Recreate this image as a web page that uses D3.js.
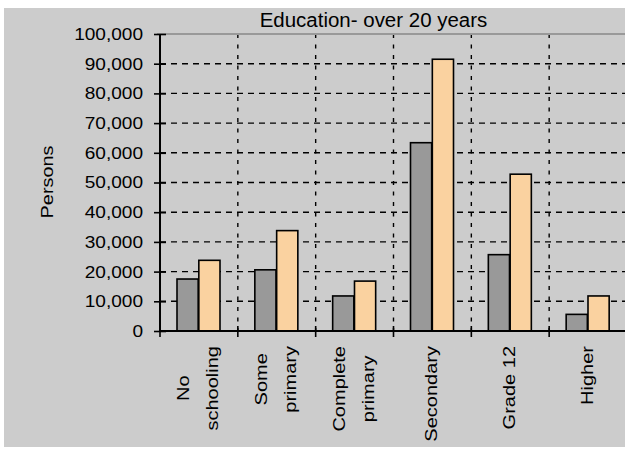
<!DOCTYPE html>
<html>
<head>
<meta charset="utf-8">
<script src="https://cdn.jsdelivr.net/npm/d3@7"></script>
<style>
  html, body { margin: 0; padding: 0; background: #ffffff; }
  svg { display: block; }
  text { font-family: "Liberation Sans", Arial, sans-serif; fill: #000; }
</style>
</head>
<body>
<svg id="chart" width="625" height="449"></svg>
<script>
// Education level of persons over 20 years, two series per category
const categories = [["No", "schooling"], ["Some", "primary"], ["Complete", "primary"], ["Secondary"], ["Grade 12"], ["Higher"]];
const valuesFirst  = [17500, 20600, 11800, 63400, 25700, 5600];
const valuesSecond = [23800, 33800, 16800, 91500, 52800, 11800];
const yTicks = [0, 10000, 20000, 30000, 40000, 50000, 60000, 70000, 80000, 90000, 100000];
const title = "Education- over 20 years";
const yTitle = "Persons";

const svg = d3.select("#chart");
const W = 625, H = 449;
const plot = { left: 160, right: 627, top: 34, bottom: 331 };

// widen a text element's glyphs by factor k (the UI font is broader than Arial)
function widen(sel, k) {
  sel.each(function () {
    const len = this.getComputedTextLength();
    d3.select(this).attr("textLength", len * k).attr("lengthAdjust", "spacingAndGlyphs");
  });
}

// panel background
svg.append("rect").attr("x", 4).attr("y", 8).attr("width", W - 4).attr("height", H - 10)
  .attr("fill", "#cccccc");

const catKeys = categories.map(c => c.join(" "));
const x = d3.scaleBand().domain(catKeys).range([plot.left, plot.right]).padding(0);
const xs = d3.scaleBand().domain([0, 1]).range([17, 60]).paddingInner(0.03);
const y = d3.scaleLinear().domain([0, 100000]).range([plot.bottom, plot.top]);

const boundaries = catKeys.map(k => x(k)).concat([x.range()[1]]);

// horizontal dashed gridlines
svg.append("g").selectAll("line").data(yTicks.filter(t => t > 0 && t < 100000)).join("line")
  .attr("x1", plot.left).attr("x2", plot.right)
  .attr("y1", d => y(d)).attr("y2", d => y(d))
  .attr("stroke", "#000").attr("stroke-width", 1.4).attr("stroke-dasharray", "6,5");

// vertical dashed gridlines between categories
svg.append("g").selectAll("line").data(boundaries.slice(1)).join("line")
  .attr("x1", d => d).attr("x2", d => d)
  .attr("y1", plot.top).attr("y2", plot.bottom)
  .attr("stroke", "#000").attr("stroke-width", 1.4).attr("stroke-dasharray", "4,6.5");

// top border of plot area
svg.append("line").attr("x1", plot.left - 3).attr("x2", plot.right)
  .attr("y1", plot.top).attr("y2", plot.top)
  .attr("stroke", "#999999").attr("stroke-width", 2);

// bars
const series = [
  { values: valuesFirst, fill: "#999999" },
  { values: valuesSecond, fill: "#fad2a0" }
];
series.forEach((s, si) => {
  svg.append("g").selectAll("rect").data(s.values).join("rect")
    .attr("x", (d, i) => x(catKeys[i]) + xs(si))
    .attr("width", xs.bandwidth())
    .attr("y", d => y(d))
    .attr("height", d => y(0) - y(d))
    .attr("fill", s.fill)
    .attr("stroke", "#000").attr("stroke-width", 1.6);
});

// y axis
const yAxis = svg.append("g").attr("transform", `translate(${plot.left},0)`)
  .call(d3.axisLeft(y).tickValues(yTicks).tickFormat(d3.format(",")).tickSize(6).tickPadding(11));
yAxis.select(".domain").remove();
yAxis.selectAll(".tick line").attr("x1", 6).attr("stroke", "#000").attr("stroke-width", 1.6);
const yLabels = yAxis.selectAll(".tick text").attr("font-size", "16px")
  .attr("font-family", "'Liberation Sans', Arial, sans-serif").attr("fill", "#000")
  .attr("dy", "0.34em");
widen(yLabels, 1.19);
svg.append("line").attr("x1", plot.left).attr("x2", plot.left)
  .attr("y1", plot.top).attr("y2", plot.bottom).attr("stroke", "#000").attr("stroke-width", 2);

// x axis with crossing ticks at category boundaries
svg.append("line").attr("x1", plot.left).attr("x2", plot.right)
  .attr("y1", plot.bottom).attr("y2", plot.bottom).attr("stroke", "#000").attr("stroke-width", 2);
svg.append("g").selectAll("line").data(boundaries).join("line")
  .attr("x1", d => d).attr("x2", d => d)
  .attr("y1", plot.bottom - 5).attr("y2", plot.bottom + 6)
  .attr("stroke", "#000").attr("stroke-width", 1.6);

// category labels, rotated, each block's longest line starting just below the axis
const labelTop = 346, lineGap = 29.5, labelStretch = 1.25;
categories.forEach((lines, i) => {
  const cx = x(catKeys[i]) + x.bandwidth() / 2;
  const g = svg.append("g");
  const texts = lines.map((ln, j) => {
    const px = cx + (j - (lines.length - 1) / 2) * lineGap;
    const t = g.append("text").text(ln)
      .attr("font-size", "16px").attr("text-anchor", "middle").attr("dy", "0.30em")
      .attr("data-x", px);
    widen(t, labelStretch);
    return t;
  });
  const maxLen = d3.max(texts, t => +t.attr("textLength"));
  texts.forEach(t => {
    const px = +t.attr("data-x");
    t.attr("transform", `translate(${px},${labelTop + maxLen / 2}) rotate(-90)`);
  });
});

// y axis title
const yt = svg.append("text").text(yTitle)
  .attr("font-size", "16px").attr("text-anchor", "middle")
  .attr("transform", "translate(53,182) rotate(-90)");
widen(yt, 1.24);

// chart title
const tt = svg.append("text").text(title)
  .attr("x", 373.5).attr("y", 27)
  .attr("font-size", "19.5px").attr("text-anchor", "middle");
widen(tt, 1.05);
</script>
</body>
</html>
